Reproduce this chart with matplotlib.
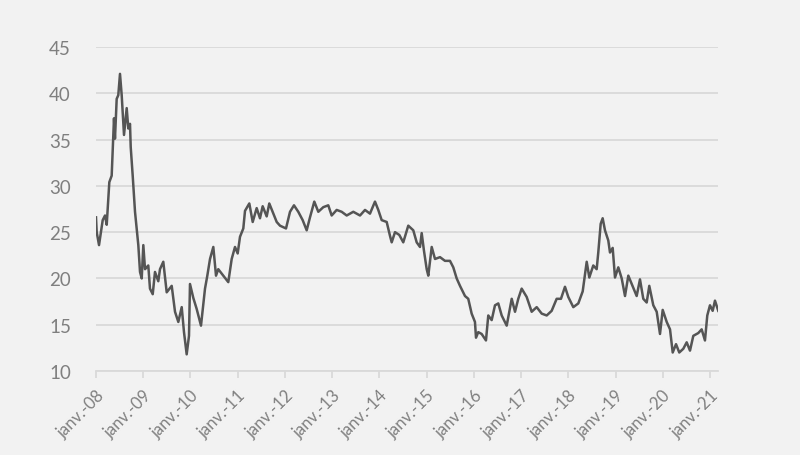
import matplotlib
matplotlib.use("Agg")
import matplotlib.pyplot as plt
import numpy as np

# decimal years, with the plotted value at each
t = [2008.000, 2008.015, 2008.064, 2008.142, 2008.191, 2008.227, 2008.282, 2008.332,
     2008.381, 2008.402, 2008.438, 2008.472, 2008.508, 2008.544, 2008.593, 2008.650,
     2008.684, 2008.720, 2008.735, 2008.777, 2008.826, 2008.896, 2008.932, 2008.968,
     2009.002, 2009.038, 2009.107, 2009.143, 2009.201, 2009.249, 2009.319, 2009.355,
     2009.425, 2009.497, 2009.603, 2009.673, 2009.743, 2009.815, 2009.863, 2009.920,
     2009.969, 2009.990, 2010.060, 2010.132, 2010.223, 2010.308, 2010.357, 2010.414,
     2010.484, 2010.541, 2010.589, 2010.695, 2010.801, 2010.873, 2010.943, 2011.000,
     2011.049, 2011.119, 2011.155, 2011.246, 2011.318, 2011.402, 2011.472, 2011.529,
     2011.614, 2011.669, 2011.754, 2011.826, 2011.896, 2012.023, 2012.108, 2012.192,
     2012.283, 2012.376, 2012.461, 2012.531, 2012.622, 2012.707, 2012.813, 2012.918,
     2012.990, 2013.096, 2013.202, 2013.308, 2013.448, 2013.590, 2013.696, 2013.801,
     2013.907, 2013.977, 2014.049, 2014.155, 2014.225, 2014.261, 2014.331, 2014.422,
     2014.506, 2014.612, 2014.718, 2014.790, 2014.860, 2014.896, 2014.944, 2015.002,
     2015.036, 2015.108, 2015.178, 2015.284, 2015.389, 2015.495, 2015.565, 2015.637,
     2015.707, 2015.813, 2015.882, 2015.954, 2016.024, 2016.046, 2016.094, 2016.166,
     2016.257, 2016.306, 2016.378, 2016.448, 2016.518, 2016.590, 2016.696, 2016.802,
     2016.872, 2016.941, 2017.013, 2017.119, 2017.225, 2017.331, 2017.437, 2017.543,
     2017.648, 2017.754, 2017.845, 2017.930, 2018.000, 2018.106, 2018.212, 2018.305,
     2018.390, 2018.445, 2018.529, 2018.601, 2018.635, 2018.686, 2018.728, 2018.777,
     2018.847, 2018.883, 2018.940, 2018.989, 2019.059, 2019.131, 2019.201, 2019.271,
     2019.343, 2019.448, 2019.518, 2019.588, 2019.660, 2019.715, 2019.800, 2019.872,
     2019.942, 2019.999, 2020.084, 2020.154, 2020.211, 2020.281, 2020.350, 2020.435,
     2020.507, 2020.577, 2020.647, 2020.753, 2020.824, 2020.894, 2020.943, 2021.000,
     2021.057, 2021.106, 2021.176]

vals = [26.6, 25.0, 23.6, 26.3, 26.8, 25.8, 30.4, 31.1,
        37.3, 35.1, 39.4, 39.8, 42.1, 39.8, 35.5, 38.4,
        36.2, 36.7, 34.2, 31.1, 27.2, 23.6, 20.7, 20.0,
        23.6, 21.0, 21.4, 18.9, 18.3, 20.7, 19.7, 21.0,
        21.8, 18.5, 19.2, 16.4, 15.3, 16.9, 14.2, 11.8,
        13.8, 19.4, 17.9, 16.7, 14.9, 18.9, 20.3, 22.1,
        23.4, 20.3, 21.0, 20.3, 19.6, 22.1, 23.4, 22.7,
        24.5, 25.4, 27.3, 28.1, 26.1, 27.6, 26.5, 27.8,
        26.7, 28.1, 27.0, 26.1, 25.7, 25.4, 27.2, 27.9,
        27.2, 26.3, 25.2, 26.6, 28.3, 27.2, 27.7, 27.9,
        26.8, 27.4, 27.2, 26.8, 27.2, 26.8, 27.4, 27.0,
        28.3, 27.4, 26.3, 26.1, 24.6, 23.9, 25.0, 24.7,
        23.9, 25.7, 25.2, 23.9, 23.4, 24.9, 23.0, 21.0,
        20.3, 23.4, 22.1, 22.3, 21.9, 21.9, 21.2, 20.0,
        19.2, 18.1, 17.8, 16.2, 15.3, 13.6, 14.2, 14.0,
        13.3, 16.0, 15.5, 17.1, 17.3, 16.0, 14.9, 17.8,
        16.4, 17.8, 18.9, 18.0, 16.4, 16.9, 16.2, 16.0,
        16.5, 17.8, 17.8, 19.1, 18.0, 16.9, 17.3, 18.6,
        21.8, 20.1, 21.4, 21.0, 22.8, 25.9, 26.5, 25.2,
        24.1, 22.8, 23.3, 20.1, 21.2, 20.0, 18.1, 20.3,
        19.4, 18.1, 19.9, 17.8, 17.4, 19.2, 17.1, 16.4,
        14.0, 16.6, 15.3, 14.5, 12.0, 12.9, 12.0, 12.4,
        13.1, 12.2, 13.8, 14.1, 14.5, 13.3, 16.0, 17.1,
        16.5, 17.6, 16.5]

years = list(range(2008, 2022))
year_labels = ["janv.-%02d" % (y % 100) for y in years]
yticks = [10, 15, 20, 25, 30, 35, 40, 45]

bg = "#f2f2f2"
grid_col = "#d9d9d9"
text_col = "#7f7f7f"

plt.rcParams['font.family'] = ['Lato', 'DejaVu Sans']

fig = plt.figure(figsize=(8, 4.56), dpi=100, facecolor=bg)
ax = fig.add_axes([0.12, 0.1842, 0.7775, 0.7105], facecolor=bg)

ax.plot(t, vals, color="#555555", lw=1.8, solid_joinstyle="round")

ax.set_xlim(2008, 2021.17)
ax.set_ylim(10, 45)
ax.set_yticks(yticks)
ax.set_yticklabels([str(v) for v in yticks])
ax.set_xticks(years)
ax.set_xticklabels(year_labels, rotation=45, ha="right", va="top",
                   rotation_mode="anchor")

ax.yaxis.grid(True, color=grid_col, lw=1.3)
ax.set_axisbelow(True)
for s in ["top", "right", "left"]:
    ax.spines[s].set_visible(False)
ax.spines["bottom"].set_color(grid_col)
ax.spines["bottom"].set_linewidth(1.3)

ax.tick_params(axis="y", length=0, pad=18, labelsize=13.5, labelcolor=text_col)
ax.tick_params(axis="x", length=5, width=1.3, color=grid_col, pad=6,
               labelsize=12, labelcolor=text_col)

fig.savefig("out.png", dpi=100, facecolor=bg)
